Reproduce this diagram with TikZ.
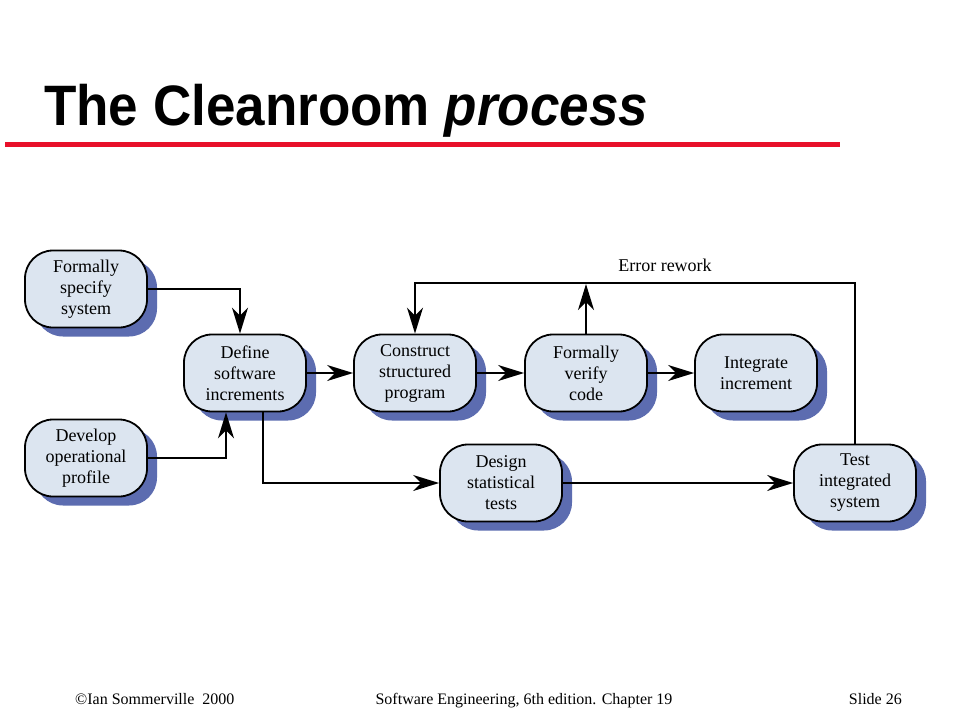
\documentclass[tikz,border=0pt]{standalone}
\usepackage{fontspec}
\setmainfont{Liberation Serif}
\newfontfamily\titlefont{Liberation Sans}
\usetikzlibrary{arrows.meta,shadows,calc}
\definecolor{boxfill}{HTML}{DCE5F0}
\definecolor{shadowc}{HTML}{5C6CB0}
\definecolor{titlered}{HTML}{E8102A}
\begin{document}
\begin{tikzpicture}[x=1pt,y=-1pt,
 proc/.style={draw=black, line width=1.8pt, fill=boxfill, rounded corners=28pt,
   minimum width=122pt, minimum height=77pt, align=center, inner sep=0pt,
   font=\fontsize{18}{21}\selectfont,
   drop shadow={shadow xshift=10pt, shadow yshift=-9pt, fill=shadowc, opacity=1, draw=none}},
 flow/.style={line width=1.8pt, -{Stealth[length=26pt,width=16pt,inset=8pt]}},
 foot/.style={font=\fontsize{16}{18}\selectfont, inner sep=0pt}]
\useasboundingbox (0,0) rectangle (960,720);
\fill[white] (0,0) rectangle (960,720);
% title
\node[anchor=base west, inner sep=0pt] (title) at (44,125)
  {\scalebox{0.93}[1]{\titlefont\bfseries\fontsize{57}{60}\selectfont The Cleanroom \textit{process}}};
\draw[titlered, line width=5pt] (5,144) -- (840,144);
% nodes
\node[proc] (fss) at (86,289) {Formally\\specify\\system};
\node[proc] (dsi) at (245,373) {Define\\software\\increments};
\node[proc] (dop) at (86,458) {Develop\\operational\\profile};
\node[proc] (csp) at (415,373) {Construct\\structured\\program};
\node[proc] (fvc) at (586,373) {Formally\\verify\\code};
\node[proc] (ii)  at (756,373) {Integrate\\increment};
\node[proc] (dst) at (501,483) {Design\\statistical\\tests};
\node[proc] (tis) at (855,483) {Test\\integrated\\system};
\coordinate (looptop) at (586,284);
% connectors
\draw[flow] (fss.east) -| ([xshift=-5pt]dsi.north);
\draw[flow] (dop.east) -| ([xshift=-19pt]dsi.south);
\draw[flow] (dsi) -- (csp);
\draw[flow] (csp) -- (fvc);
\draw[flow] (fvc) -- (ii);
\draw[flow] ([xshift=18pt]dsi.south) |- (dst.west);
\draw[flow] (dst) -- (tis);
\draw[flow] (tis.north) -- ++(0,-161) -| (csp.north);
\draw[flow] (fvc.north) -- (looptop);
\node[font=\fontsize{18}{21}\selectfont, inner sep=0pt, anchor=base] (err) at (665,271) {Error rework};
% footer
\node[foot, anchor=base west] (f1) at (75,704) {©Ian Sommerville\ \ 2000};
\node[foot, anchor=base] (f2) at (524,704) {Software Engineering, 6th edition. Chapter 19};
\node[foot, anchor=base east] (f3) at (902,704) {Slide 26};
\end{tikzpicture}
\end{document}
